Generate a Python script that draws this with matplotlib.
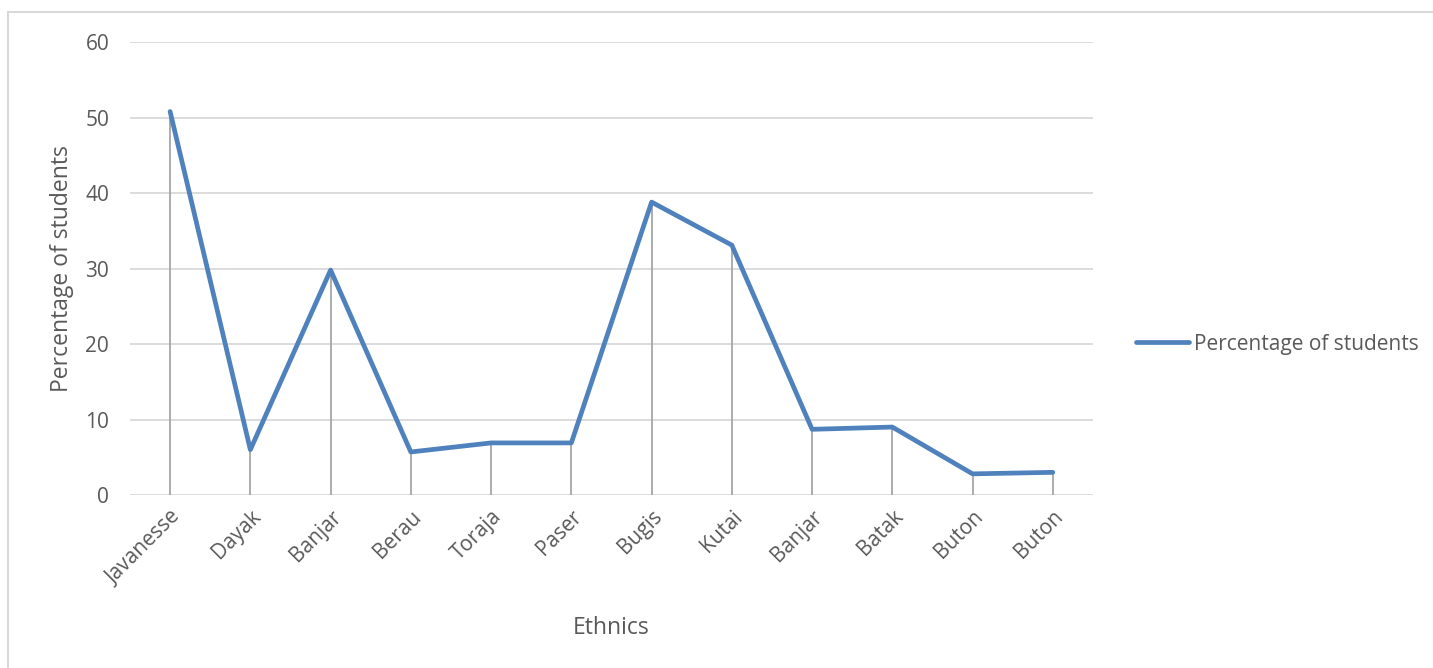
import matplotlib.pyplot as plt
from matplotlib.lines import Line2D

# Share of students per ethnic group
ethnics = ["Javanesse", "Dayak", "Banjar", "Berau", "Toraja", "Paser",
           "Bugis", "Kutai", "Banjar", "Batak", "Buton", "Buton"]
percentages = [50.8, 6.0, 29.8, 5.7, 6.9, 6.9, 38.8, 33.1, 8.7, 9.0, 2.8, 3.0]
y_ticks = [0, 10, 20, 30, 40, 50, 60]

LINE_COLOR = "#4F81BD"
TEXT_COLOR = "#595959"
GRID_COLOR = "#D9D9D9"
DROP_COLOR = "#A6A6A6"

plt.rcParams["font.family"] = ["Open Sans", "DejaVu Sans"]

fig = plt.figure(figsize=(14.33, 6.68), dpi=100)
ax = fig.add_axes([0.0907, 0.259, 0.672, 0.678])

x = list(range(len(ethnics)))

# Drop lines from the category axis up to each point
ax.vlines(x, 0, percentages, color=DROP_COLOR, linewidth=1.3, zorder=2)
ax.plot(x, percentages, color=LINE_COLOR, linewidth=3.4,
        solid_capstyle="round", solid_joinstyle="round", zorder=3,
        label="Percentage of students")

ax.set_xlim(-0.5, len(ethnics) - 0.5)
ax.set_ylim(0, 60)
ax.set_yticks(y_ticks)
ax.yaxis.grid(True, color=GRID_COLOR, linewidth=1.3)
ax.set_axisbelow(True)
for side in ["top", "right", "left", "bottom"]:
    ax.spines[side].set_visible(False)

ax.set_xticks(x)
ax.set_xticklabels(ethnics, rotation=45, ha="right", rotation_mode="anchor")
ax.tick_params(axis="x", length=0, pad=8, labelsize=15, labelcolor=TEXT_COLOR)
ax.tick_params(axis="y", length=0, pad=15, labelsize=15, labelcolor=TEXT_COLOR)

ax.set_xlabel("Ethnics", fontsize=16.5, color=TEXT_COLOR, labelpad=20)
ax.set_ylabel("Percentage of students", fontsize=16.5, color=TEXT_COLOR,
              labelpad=8)

handle = Line2D([], [], color=LINE_COLOR, linewidth=3.4,
                solid_capstyle="round")
fig.legend([handle], ["Percentage of students"], loc="center left",
           bbox_to_anchor=(0.780, 0.485), frameon=False, fontsize=15,
           labelcolor=TEXT_COLOR, handlelength=2.5, handletextpad=0.25)

# Chart area outline
fig.add_artist(plt.Rectangle((8 / 1433, -0.05), 1.2, 1 - 12 / 668 + 0.05,
                             transform=fig.transFigure, fill=False,
                             edgecolor=GRID_COLOR, linewidth=1.5))

fig.savefig("out.png", dpi=100, facecolor="white")
